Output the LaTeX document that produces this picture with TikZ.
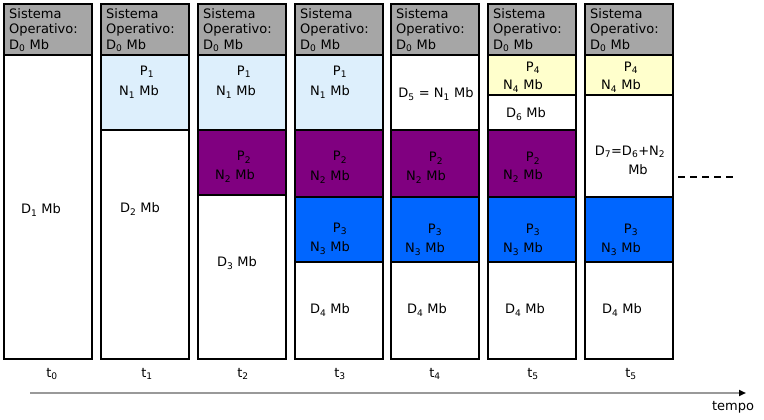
\documentclass[tikz,border=0pt]{standalone}
\usepackage{fontspec}
\setmainfont{DejaVu Sans}
\usetikzlibrary{arrows.meta}

\definecolor{sogray}{HTML}{A6A6A6}
\definecolor{pone}{HTML}{DDEFFC}
\definecolor{ptwo}{HTML}{800080}
\definecolor{pthree}{HTML}{0066FF}
\definecolor{pfour}{HTML}{FFFFCC}
\definecolor{axisgray}{HTML}{999999}

\begin{document}
\begin{tikzpicture}[x=1pt, y=-1pt, font=\fontsize{13}{15.5}\selectfont,
    box/.style={draw=black, line width=1.1pt},
    lab/.style={inner sep=0pt}]
    \useasboundingbox (0,0) rectangle (764,420);

    % memory columns, one per instant
    \foreach \c/\xl in {0/4,1/101,2/198,3/295,4/391,5/488,6/585} {
        \draw [box, fill=white] (\xl,4) rectangle (\xl+88,359);
        \draw [box, fill=sogray] (\xl,4) rectangle (\xl+88,55);
        \node [lab, anchor=north west, align=left] (so\c) at (\xl+5,8)
            {Sistema\\Operativo:\\D\textsubscript{0} Mb};
    }

    % t1
    \draw [box, fill=pone] (101,55) rectangle (189,130);
    % t2
    \draw [box, fill=pone] (198,55) rectangle (286,130);
    \draw [box, fill=ptwo] (198,130) rectangle (286,195);
    % t3
    \draw [box, fill=pone] (295,55) rectangle (383,130);
    \draw [box, fill=ptwo] (295,130) rectangle (383,197);
    \draw [box, fill=pthree] (295,197) rectangle (383,262);
    % t4
    \draw [box, fill=ptwo] (391,130) rectangle (479,197);
    \draw [box, fill=pthree] (391,197) rectangle (479,262);
    % t5
    \draw [box, fill=pfour] (488,55) rectangle (576,95);
    \draw [box, fill=ptwo] (488,130) rectangle (576,197);
    \draw [box, fill=pthree] (488,197) rectangle (576,262);
    % t5 (again)
    \draw [box, fill=pfour] (585,55) rectangle (673,95);
    \draw [box, fill=pthree] (585,197) rectangle (673,262);

    \node [lab] (d1) at (41,210) {D\textsubscript{1} Mb};

    \node [lab] (p1a) at (147,72) {P\textsubscript{1}};
    \node [lab] (n1a) at (139,92) {N\textsubscript{1} Mb};
    \node [lab] (d2) at (140,209) {D\textsubscript{2} Mb};

    \node [lab] (p1b) at (244,72) {P\textsubscript{1}};
    \node [lab] (n1b) at (236,92) {N\textsubscript{1} Mb};
    \node [lab] (p2b) at (244,157) {P\textsubscript{2}};
    \node [lab] (n2b) at (235,176) {N\textsubscript{2} Mb};
    \node [lab] (d3) at (237,263) {D\textsubscript{3} Mb};

    \node [lab] (p1c) at (340,72) {P\textsubscript{1}};
    \node [lab] (n1c) at (330,92) {N\textsubscript{1} Mb};
    \node [lab] (p2c) at (340,157) {P\textsubscript{2}};
    \node [lab] (n2c) at (330,177) {N\textsubscript{2} Mb};
    \node [lab] (p3c) at (340,229) {P\textsubscript{3}};
    \node [lab] (n3c) at (330,248) {N\textsubscript{3} Mb};
    \node [lab] (d4c) at (330,310) {D\textsubscript{4} Mb};

    \node [lab] (d5) at (436,94) {D\textsubscript{5} = N\textsubscript{1} Mb};
    \node [lab] (p2d) at (436,158) {P\textsubscript{2}};
    \node [lab] (n2d) at (426,177) {N\textsubscript{2} Mb};
    \node [lab] (p3d) at (435,230) {P\textsubscript{3}};
    \node [lab] (n3d) at (425,249) {N\textsubscript{3} Mb};
    \node [lab] (d4d) at (427,310) {D\textsubscript{4} Mb};

    \node [lab] (p4e) at (533,68) {P\textsubscript{4}};
    \node [lab] (n4e) at (523,86) {N\textsubscript{4} Mb};
    \node [lab] (d6) at (526,114) {D\textsubscript{6} Mb};
    \node [lab] (p2e) at (533,158) {P\textsubscript{2}};
    \node [lab] (n2e) at (523,176) {N\textsubscript{2} Mb};
    \node [lab] (p3e) at (533,230) {P\textsubscript{3}};
    \node [lab] (n3e) at (523,249) {N\textsubscript{3} Mb};
    \node [lab] (d4e) at (525,310) {D\textsubscript{4} Mb};

    \node [lab] (p4f) at (631,68) {P\textsubscript{4}};
    \node [lab] (n4f) at (621,86) {N\textsubscript{4} Mb};
    \node [lab] (d7) at (630,152) {D\textsubscript{7}=D\textsubscript{6}+N\textsubscript{2}};
    \node [lab] (mb7) at (638,170) {Mb};
    \node [lab] (p3f) at (631,230) {P\textsubscript{3}};
    \node [lab] (n3f) at (621,249) {N\textsubscript{3} Mb};
    \node [lab] (d4f) at (622,310) {D\textsubscript{4} Mb};

    % continues...
    \coordinate (dashA) at (678,177);
    \coordinate (dashB) at (733,177);
    \draw [line width=1.3pt, dash pattern=on 7pt off 5pt] (dashA) -- (dashB);

    % time instants
    \foreach \i/\x/\s in {0/52/0,1/147/1,2/243/2,3/340/3,4/435/4,5/533/5,6/631/5} {
        \node [lab] (t\i) at (\x,374) {t\textsubscript{\s}};
    }

    \coordinate (tstart) at (30,393);
    \coordinate (tend) at (746,393);
    \draw [axisgray, line width=2pt, -{Triangle[black, length=7pt, width=6pt]}] (tstart) -- (tend);
    \node [lab] (tempo) at (733,407) {tempo};
\end{tikzpicture}
\end{document}
